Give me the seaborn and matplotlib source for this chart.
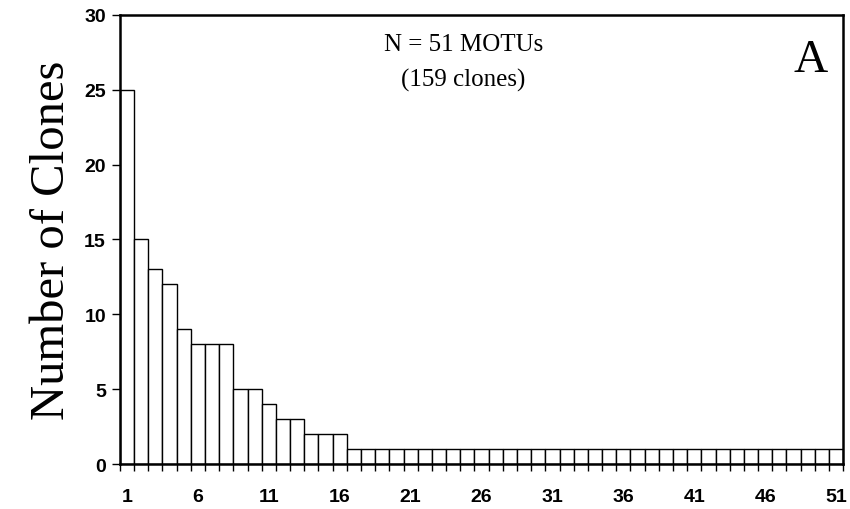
import matplotlib
matplotlib.use("Agg")
import matplotlib.pyplot as plt
import seaborn as sns
import pandas as pd
import numpy as np

ranks = list(range(1, 52))
clones = [25, 15, 13, 12, 9, 8, 8, 8, 5, 5, 4, 3, 3, 2, 2, 2] + [1] * 35
xtick_labels = ["1", "6", "11", "16", "21", "26", "31", "36", "41", "46", "51"]
yticks = [0, 5, 10, 15, 20, 25, 30]

sns.set_theme(style="white")
plt.rcParams['font.family'] = ['Liberation Sans', 'DejaVu Sans']
plt.rcParams['text.color'] = 'black'
plt.rcParams['xtick.color'] = 'black'
plt.rcParams['ytick.color'] = 'black'
plt.rcParams['axes.labelcolor'] = 'black'

df = pd.DataFrame({"rank": ranks, "clones": clones})

fig = plt.figure(figsize=(8.5, 5.1), dpi=100)
ax = fig.add_axes([0.141, 0.088, 0.851, 0.881])
sns.barplot(data=df, x="rank", y="clones", ax=ax, width=1.0, color="white",
            edgecolor="black", linewidth=1.0, saturation=1)

ax.set_xlim(-0.5, len(ranks) - 0.5)
ax.set_ylim(0, 30)
ax.set_yticks(yticks)
ax.set_yticklabels([str(v) for v in yticks], fontsize=14, fontweight="bold")
major = [ranks.index(int(l)) for l in xtick_labels]
ax.set_xticks(major)
ax.set_xticklabels(xtick_labels, fontsize=14, fontweight="bold")
ax.set_xticks(np.arange(-0.5, len(ranks)), minor=True)
ax.tick_params(axis="x", which="major", length=0, pad=17)
ax.tick_params(axis="x", which="minor", length=5, width=1, direction="out", bottom=True)
ax.tick_params(axis="y", length=6, width=1, direction="out", left=True, pad=4)
for s in ax.spines.values():
    s.set_color("black")
    s.set_linewidth(1.8)
ax.set_xlabel("")
ax.set_ylabel("Number of Clones", family=["Liberation Serif"], fontsize=35, labelpad=7)

ax.text(0.475, 0.935, "N = 51 MOTUs", transform=ax.transAxes, ha="center", va="center",
        family=["Liberation Serif"], fontsize=18)
ax.text(0.475, 0.857, "(159 clones)", transform=ax.transAxes, ha="center", va="center",
        family=["Liberation Serif"], fontsize=18)
ax.text(0.955, 0.9, "A", transform=ax.transAxes, ha="center", va="center",
        family=["Liberation Serif"], fontsize=34)

fig.savefig("out.png", dpi=100, facecolor="white")
